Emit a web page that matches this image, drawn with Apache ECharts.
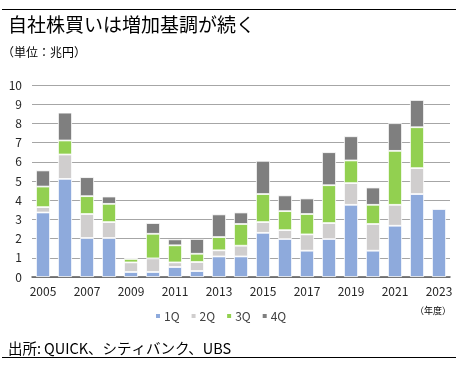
<!DOCTYPE html>
<html><head><meta charset="utf-8">
<script src="https://cdn.jsdelivr.net/npm/echarts@6/dist/echarts.min.js"></script>
<style>html,body{margin:0;padding:0;background:#fff}#c{width:456px;height:365px}</style>
</head><body><div id="c"></div>
<script>
const years = ['2005','2006','2007','2008','2009','2010','2011','2012','2013','2014','2015','2016','2017','2018','2019','2020','2021','2022','2023'];
const q1 = [3.36,5.11,2.03,2.03,0.26,0.26,0.52,0.31,1.07,1.07,2.30,1.98,1.37,1.98,3.76,1.37,2.67,4.32,3.54];
const q2 = [0.28,1.27,1.25,0.83,0.50,0.71,0.24,0.47,0.32,0.56,0.56,0.46,0.85,0.83,1.13,1.39,1.09,1.35,null];
const q3 = [1.07,0.73,0.93,0.95,0.18,1.28,0.89,0.43,0.69,1.13,1.46,0.99,1.06,1.97,1.18,1.00,2.81,2.13,null];
const q4 = [0.84,1.45,0.99,0.38,0.06,0.56,0.31,0.77,1.18,0.60,1.73,0.82,0.81,1.72,1.26,0.90,1.44,1.42,null];
const yTicks = [0,1,2,3,4,5,6,7,8,9,10];
const seriesNames = ['1Q','2Q','3Q','4Q'];
const colors = ['#8eaadc','#d0cece','#92d050','#7f7f7f'];
const font = '"Noto Sans CJK JP","Noto Sans",sans-serif';
const chart = echarts.init(document.getElementById('c'), null, {renderer:'canvas'});
const mk = (name, data, i) => ({
  name, type:'bar', stack:'a', data, barWidth:14,
  itemStyle:{color:colors[i], borderColor:'#fff', borderWidth:0.8},
  emphasis:{disabled:true}
});
chart.setOption({
  animation:false,
  color:colors,
  textStyle:{fontFamily:font},
  grid:{left:32,right:6,top:85,bottom:88},
  title:[
    {text:'自社株買いは増加基調が続く', left:3, top:10, textStyle:{fontFamily:font,fontSize:19,fontWeight:'normal',color:'#000'}},
    {text:'（単位：兆円）', left:-3, top:41, textStyle:{fontFamily:font,fontSize:12,fontWeight:'normal',color:'#000'}},
    {text:'出所:\u2009QUICK、シティバンク、UBS', left:3, top:336, textStyle:{fontFamily:font,fontSize:14.5,fontWeight:'normal',color:'#000'}},
    {text:'（年度）', left:410, top:301, textStyle:{fontFamily:font,fontSize:9,fontWeight:'normal',color:'#000'}}
  ],
  legend:{
    data:seriesNames, left:149, top:305, itemWidth:6, itemHeight:6, itemGap:10,
    icon:'rect', textStyle:{fontFamily:font,fontSize:12,color:'#404040',padding:[0,0,0,-2]}
  },
  xAxis:{
    type:'category', data:years,
    axisLine:{lineStyle:{color:'#595959',width:1.5}},
    axisTick:{show:false},
    axisLabel:{interval:1, color:'#262626', fontSize:12, fontFamily:font, margin:8}
  },
  yAxis:{
    type:'value', min:yTicks[0], max:yTicks[yTicks.length-1], interval:1,
    axisLine:{show:false}, axisTick:{show:false},
    axisLabel:{color:'#262626', fontSize:12, fontFamily:font, margin:10},
    splitLine:{lineStyle:{color:'#a6a6a6',width:1}}
  },
  graphic:[
    {type:'line', shape:{x1:2,y1:9.5,x2:456,y2:9.5}, style:{stroke:'#000',lineWidth:1}},
    {type:'line', shape:{x1:2,y1:357.5,x2:456,y2:357.5}, style:{stroke:'#000',lineWidth:1}}
  ],
  series:[mk('1Q',q1,0),mk('2Q',q2,1),mk('3Q',q3,2),mk('4Q',q4,3)]
});
</script></body></html>
